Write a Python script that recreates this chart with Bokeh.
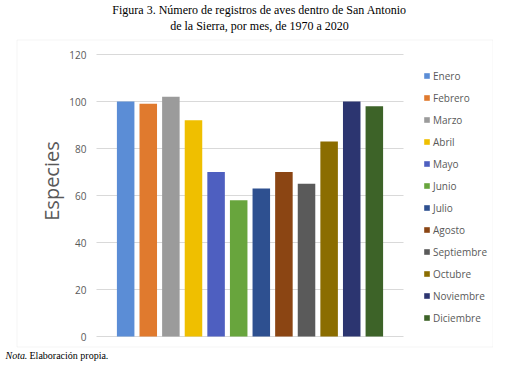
from bokeh.plotting import figure
from bokeh.models import (Range1d, ColumnDataSource, Legend, LegendItem, Label,
                          BoxAnnotation, FixedTicker)
from bokeh.embed import file_html
from bokeh.resources import INLINE

title_lines = ["Figura 3. Número de registros de aves dentro de San Antonio",
               "de la Sierra, por mes, de 1970 a 2020"]
months = ["Enero", "Febrero", "Marzo", "Abril", "Mayo", "Junio", "Julio",
          "Agosto", "Septiembre", "Octubre", "Noviembre", "Diciembre"]
species = [100, 99, 102, 92, 70, 58, 63, 70, 65, 83, 100, 98]
colors = ["#5B8DD6", "#E07A2E", "#9B9B9B", "#EFBF00", "#4E5FC0", "#68A53D",
          "#2E5090", "#8B4513", "#5A5A5A", "#8B6D00", "#2C3570", "#3D6328"]
y_ticks = [0, 20, 40, 60, 80, 100, 120]
y_label = "Especies"
note_italic = "Nota"
note_rest = ". Elaboración propia."

# ---- layout (pixels) ----
W, H = 493, 361
PLOT_L, PLOT_R, PLOT_T, PLOT_B = 96, 403, 54, 336   # inner plot area
PAD = 0.79                                           # category padding each side
n = len(months)
px_x = (PLOT_R - PLOT_L) / (n + 2 * PAD)             # px per category
px_y = (PLOT_B - PLOT_T) / (y_ticks[-1] - y_ticks[0])
cat_lo, cat_hi = -0.5 - PAD, n - 0.5 + PAD
x_start = cat_lo - PLOT_L / px_x
x_end = x_start + W / px_x
y_end = y_ticks[-1] + PLOT_T / px_y
y_start = y_ticks[0] - (H - PLOT_B) / px_y

p = figure(width=W, height=H,
           x_range=Range1d(x_start, x_end), y_range=Range1d(y_start, y_end),
           output_backend="svg", toolbar_location=None, min_border=0)
p.min_border_left = p.min_border_right = p.min_border_top = p.min_border_bottom = 0
p.outline_line_color = None
p.background_fill_color = "white"
p.border_fill_color = "white"
p.title.text = ""
p.xaxis.visible = False
p.xgrid.visible = False
p.ygrid.visible = False

# chart box
p.add_layout(BoxAnnotation(left=16.5, right=492.5, top=39.5, bottom=346.5,
                           left_units="canvas", right_units="canvas",
                           top_units="canvas", bottom_units="canvas",
                           fill_alpha=0, line_color="#d9d9d9", line_width=1,
                           level="underlay"))

# gridlines
p.segment(x0=[cat_lo] * len(y_ticks), x1=[cat_hi] * len(y_ticks),
          y0=y_ticks, y1=y_ticks, line_color="#d9d9d9", line_width=1)

src = ColumnDataSource(dict(x=list(range(n)), month=months, species=species,
                            color=colors))
r = p.vbar(x="x", top="species", width=0.775, fill_color="color",
           line_color=None, source=src)

ax = p.yaxis[0]
ax.fixed_location = cat_lo
ax.ticker = FixedTicker(ticks=y_ticks)
ax.axis_line_color = None
ax.major_tick_line_color = None
ax.minor_tick_line_color = None
ax.major_label_text_font = "Open Sans"
ax.major_label_text_font_size = "10px"
ax.major_label_text_color = "#595959"
ax.major_label_standoff = 4
ax.axis_label = y_label
ax.axis_label_text_font = "Open Sans"
ax.axis_label_text_font_size = "20px"
ax.axis_label_text_font_style = "normal"
ax.axis_label_text_color = "#595959"
ax.axis_label_standoff = 1

items = [LegendItem(label=m, renderers=[r], index=i) for i, m in enumerate(months)]
legend = Legend(items=items, location=(423, 36), glyph_width=7, glyph_height=7,
                label_standoff=3, spacing=7, label_height=15, padding=0, margin=0,
                border_line_color=None, background_fill_alpha=0,
                label_text_font="Open Sans", label_text_font_size="10px",
                label_text_color="#595959")
p.add_layout(legend)

for txt, base in zip(title_lines, [9.5, 25.5]):
    p.add_layout(Label(x=259, y=base, x_units="canvas", y_units="canvas", text=txt,
                       text_align="center", text_baseline="alphabetic",
                       text_font="Liberation Serif", text_font_size="12px",
                       text_color="black"))

p.add_layout(Label(x=5, y=355, x_units="canvas", y_units="canvas", text=note_italic,
                   text_align="left", text_baseline="alphabetic",
                   text_font="Liberation Serif", text_font_size="10px",
                   text_font_style="italic", text_color="black"))
p.add_layout(Label(x=24, y=355, x_units="canvas", y_units="canvas", text=note_rest,
                   text_align="left", text_baseline="alphabetic",
                   text_font="Liberation Serif", text_font_size="10px",
                   text_color="black"))

open("out.html", "w").write(file_html(p, INLINE))
